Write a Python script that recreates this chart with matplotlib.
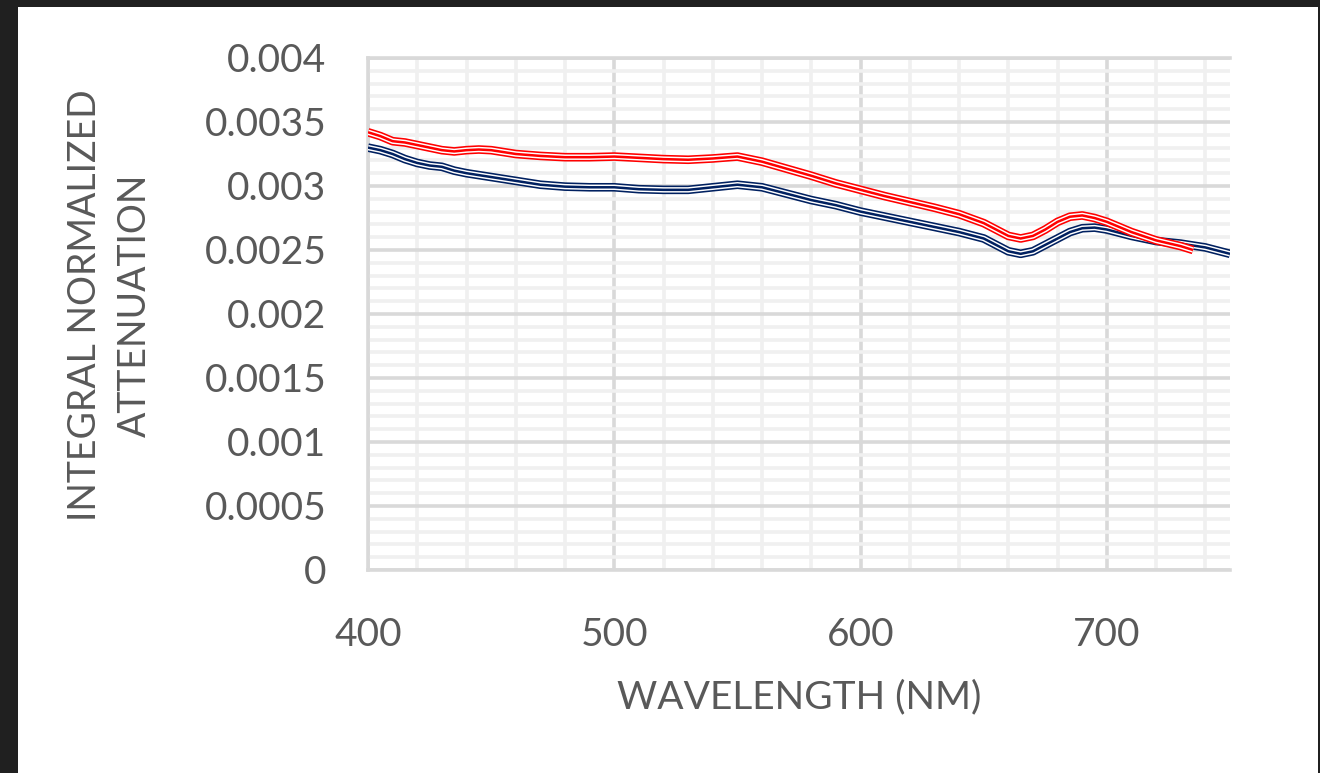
import matplotlib
matplotlib.use("Agg")
import matplotlib.pyplot as plt
from matplotlib.patches import Rectangle
from matplotlib.ticker import MultipleLocator, FixedLocator, FixedFormatter

plt.rcParams['font.family'] = ['Lato', 'DejaVu Sans']

# Spectra: wavelength (nm) and integral normalized attenuation
wl_red = [400, 405, 410, 415, 420, 425, 430, 435, 440, 445, 450, 460, 470, 480,
          490, 500, 510, 520, 530, 540, 550, 560, 570, 580, 590, 600, 610, 620,
          630, 640, 650, 655, 660, 665, 670, 675, 680, 685, 690, 695, 700, 710,
          720, 730, 735]
att_red = [3.42, 3.39, 3.35, 3.34, 3.32, 3.30, 3.28, 3.27, 3.28, 3.285, 3.28,
           3.25, 3.235, 3.225, 3.225, 3.23, 3.22, 3.21, 3.205, 3.215, 3.23,
           3.19, 3.135, 3.08, 3.02, 2.97, 2.92, 2.875, 2.83, 2.78, 2.71, 2.66,
           2.61, 2.59, 2.61, 2.66, 2.72, 2.76, 2.77, 2.75, 2.72, 2.64, 2.575,
           2.53, 2.50]

wl_blue = [400, 405, 410, 415, 420, 425, 430, 435, 440, 450, 460, 470, 480, 490,
           500, 510, 520, 530, 540, 550, 560, 570, 580, 590, 600, 610, 620, 630,
           640, 650, 655, 660, 665, 670, 675, 680, 685, 690, 695, 700, 710, 720,
           730, 740, 750]
att_blue = [3.30, 3.28, 3.25, 3.21, 3.18, 3.16, 3.15, 3.12, 3.10, 3.07, 3.04,
            3.01, 2.995, 2.99, 2.99, 2.975, 2.97, 2.97, 2.99, 3.01, 2.99, 2.94,
            2.89, 2.85, 2.80, 2.76, 2.72, 2.68, 2.64, 2.59, 2.54, 2.49, 2.47,
            2.49, 2.54, 2.59, 2.64, 2.67, 2.675, 2.66, 2.61, 2.57, 2.55, 2.52,
            2.47]

scale = 1e-3
att_red = [v * scale for v in att_red]
att_blue = [v * scale for v in att_blue]

y_ticks = [0, 0.0005, 0.001, 0.0015, 0.002, 0.0025, 0.003, 0.0035, 0.004]
y_labels = ["0", "0.0005", "0.001", "0.0015", "0.002", "0.0025", "0.003",
            "0.0035", "0.004"]
x_ticks = [400, 500, 600, 700]
x_labels = ["400", "500", "600", "700"]

TEXT = "#595959"
MAJOR = "#d9d9d9"
MINOR = "#f0f0f0"

W, H = 1320, 773
fig = plt.figure(figsize=(W / 100, H / 100), dpi=100, facecolor="#202020")
fig.patches.append(Rectangle((18 / W, 0), (1318 - 18) / W, (H - 7) / H,
                             transform=fig.transFigure, facecolor="white",
                             edgecolor="none", zorder=-10))

ax = fig.add_axes([368 / W, 1 - 570 / H, (1230 - 368) / W, (570 - 58) / H])
ax.set_facecolor("white")
ax.set_xlim(400, 750)
ax.set_ylim(0, 0.004)

ax.xaxis.set_major_locator(FixedLocator(x_ticks))
ax.xaxis.set_major_formatter(FixedFormatter(x_labels))
ax.xaxis.set_minor_locator(MultipleLocator(20))
ax.yaxis.set_major_locator(FixedLocator(y_ticks))
ax.yaxis.set_major_formatter(FixedFormatter(y_labels))
ax.yaxis.set_minor_locator(MultipleLocator(0.0001))

ax.grid(which="minor", color=MINOR, linewidth=2.6, zorder=0)
ax.grid(which="major", color=MAJOR, linewidth=2.6, zorder=0.5)
ax.set_axisbelow(True)

for side in ("left", "bottom", "top"):
    ax.spines[side].set_color(MAJOR)
    ax.spines[side].set_linewidth(2.6)
ax.spines["right"].set_visible(False)

ax.tick_params(which="both", length=0)
ax.tick_params(axis="y", labelsize=28, labelcolor=TEXT, pad=30)
ax.tick_params(axis="x", labelsize=28, labelcolor=TEXT, pad=34)


def triple_line(x, y, color):
    kw = dict(solid_capstyle="butt", solid_joinstyle="round", zorder=3)
    ax.plot(x, y, color=color, linewidth=6.2, **kw)
    ax.plot(x, y, color="white", linewidth=3.9, **kw)
    ax.plot(x, y, color=color, linewidth=1.8, **kw)


triple_line(wl_blue, att_blue, "#002060")
triple_line(wl_red, att_red, "#ff0000")

fig.text(799 / W, 1 - 697 / H, "WAVELENGTH (NM)", ha="center", va="center",
         fontsize=28, color=TEXT)
fig.text(85 / W, 1 - 305 / H, "INTEGRAL NORMALIZED", ha="center", va="center",
         rotation=90, fontsize=27, color=TEXT)
fig.text(135 / W, 1 - 305 / H, "ATTENUATION", ha="center", va="center",
         rotation=90, fontsize=27, color=TEXT)

fig.savefig("out.png", dpi=100, facecolor=fig.get_facecolor())
